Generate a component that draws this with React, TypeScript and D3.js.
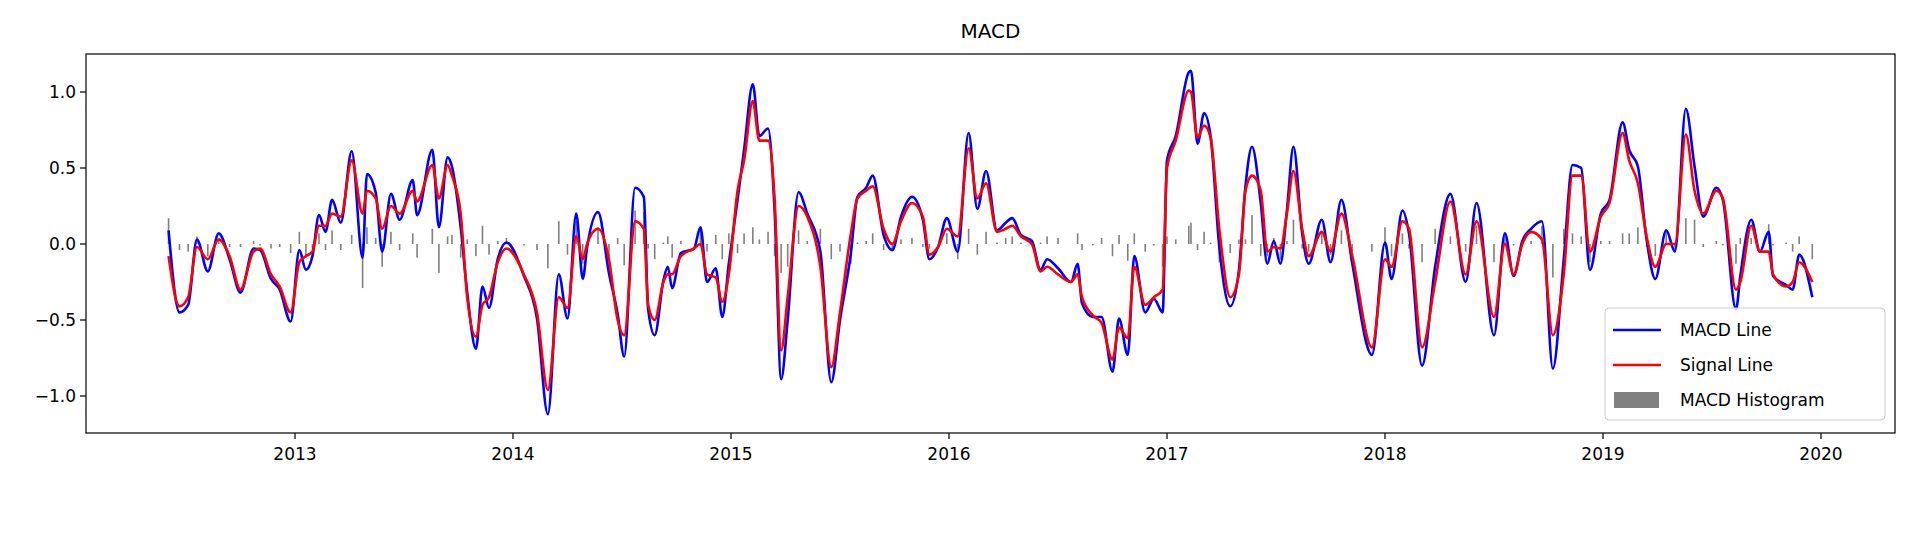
import * as d3 from "d3";

// decimal year of each sample
const dates = [
  2012.42, 2012.47, 2012.51, 2012.55, 2012.6, 2012.65, 2012.7, 2012.75, 2012.81, 2012.84,
  2012.89, 2012.93, 2012.98, 2013.02, 2013.05, 2013.08, 2013.11, 2013.14, 2013.17, 2013.21,
  2013.26, 2013.31, 2013.33, 2013.37, 2013.4, 2013.44, 2013.48, 2013.54, 2013.56, 2013.63,
  2013.66, 2013.7, 2013.72, 2013.76, 2013.79, 2013.83, 2013.86, 2013.89, 2013.93, 2013.97,
  2014.05, 2014.11, 2014.16, 2014.21, 2014.25, 2014.29, 2014.32, 2014.34, 2014.39, 2014.44,
  2014.48, 2014.51, 2014.56, 2014.6, 2014.62, 2014.65, 2014.69, 2014.71, 2014.73, 2014.77,
  2014.83, 2014.86, 2014.89, 2014.93, 2014.96, 2014.99, 2015.03, 2015.06, 2015.1, 2015.13,
  2015.17, 2015.2, 2015.23, 2015.26, 2015.31, 2015.35, 2015.41, 2015.46, 2015.5, 2015.55,
  2015.58, 2015.62, 2015.65, 2015.7, 2015.74, 2015.78, 2015.83, 2015.88, 2015.91, 2015.95,
  2015.99, 2016.04, 2016.09, 2016.13, 2016.17, 2016.22, 2016.26, 2016.29, 2016.33, 2016.38,
  2016.42, 2016.45, 2016.5, 2016.56, 2016.59, 2016.61, 2016.66, 2016.7, 2016.75, 2016.78,
  2016.82, 2016.85, 2016.9, 2016.94, 2016.98, 2017.0, 2017.04, 2017.1, 2017.11, 2017.14,
  2017.17, 2017.2, 2017.24, 2017.29, 2017.33, 2017.36, 2017.39, 2017.43, 2017.46, 2017.49,
  2017.52, 2017.55, 2017.58, 2017.62, 2017.65, 2017.71, 2017.75, 2017.8, 2017.85, 2017.94,
  2018.0, 2018.03, 2018.08, 2018.11, 2018.17, 2018.23, 2018.3, 2018.37, 2018.42, 2018.5,
  2018.55, 2018.59, 2018.63, 2018.67, 2018.72, 2018.77, 2018.82, 2018.86, 2018.9, 2018.94,
  2018.99, 2019.03, 2019.09, 2019.12, 2019.16, 2019.2, 2019.24, 2019.29, 2019.33, 2019.38,
  2019.42, 2019.46, 2019.52, 2019.55, 2019.61, 2019.63, 2019.68, 2019.72, 2019.76, 2019.78,
  2019.84, 2019.87, 2019.9, 2019.96,
];

const macdLine = [
  0.09, -0.45, -0.4, 0.03, -0.18, 0.07, -0.1, -0.32, -0.03, -0.04,
  -0.23, -0.3, -0.51, -0.04, -0.17, -0.08, 0.19, 0.08, 0.29, 0.14,
  0.61, -0.09, 0.46, 0.34, -0.05, 0.33, 0.16, 0.42, 0.19, 0.62,
  0.11, 0.57, 0.51, 0.11, -0.32, -0.69, -0.28, -0.42, -0.1, 0.01,
  -0.21, -0.49, -1.12, -0.2, -0.49, 0.2, -0.23, -0.02, 0.21, -0.19,
  -0.46, -0.74, 0.37, 0.31, -0.43, -0.6, -0.24, -0.15, -0.29, -0.06,
  -0.03, 0.11, -0.25, -0.16, -0.48, -0.13, 0.29, 0.62, 1.05, 0.71,
  0.76, 0.22, -0.89, -0.5, 0.34, 0.2, -0.05, -0.91, -0.5, -0.06,
  0.31, 0.37, 0.45, 0.06, -0.04, 0.18, 0.31, 0.16, -0.1, -0.02,
  0.17, -0.05, 0.73, 0.23, 0.48, 0.09, 0.14, 0.17, 0.06, 0.02,
  -0.17, -0.1, -0.16, -0.25, -0.13, -0.39, -0.48, -0.48, -0.84, -0.49,
  -0.73, -0.08, -0.45, -0.36, -0.45, 0.55, 0.71, 1.13, 1.14, 0.66,
  0.86, 0.71, -0.02, -0.41, -0.17, 0.38, 0.64, 0.27, -0.13, 0.02,
  -0.13, 0.22, 0.64, 0.07, -0.13, 0.16, -0.12, 0.29, -0.13, -0.73,
  0.01, -0.23, 0.22, 0.07, -0.8, -0.15, 0.33, -0.25, 0.27, -0.6,
  0.07, -0.21, 0.02, 0.1, 0.15, -0.82, -0.1, 0.52, 0.5, -0.17,
  0.2, 0.29, 0.8, 0.62, 0.51, 0.03, -0.23, 0.09, -0.05, 0.89,
  0.51, 0.18, 0.37, 0.29, -0.43, -0.21, 0.16, -0.05, 0.08, -0.21,
  -0.27, -0.3, -0.07, -0.35,
];

const signalLine = [
  -0.08, -0.41, -0.35, -0.02, -0.1, 0.03, -0.08, -0.3, -0.05, -0.03,
  -0.2, -0.28, -0.45, -0.12, -0.08, -0.05, 0.12, 0.12, 0.2, 0.18,
  0.55, 0.2, 0.35, 0.3, 0.1, 0.25, 0.2, 0.35, 0.28, 0.52,
  0.3, 0.52, 0.45, 0.2, -0.35, -0.61, -0.4, -0.35, -0.12, -0.03,
  -0.2, -0.45, -0.96, -0.35, -0.42, 0.05, -0.1, 0.0, 0.1, -0.1,
  -0.5, -0.6, 0.15, 0.1, -0.4, -0.5, -0.25, -0.2, -0.2, -0.08,
  -0.03, 0.0, -0.2, -0.22, -0.38, -0.2, 0.35, 0.55, 0.94, 0.68,
  0.68, 0.3, -0.7, -0.35, 0.25, 0.18, -0.15, -0.81, -0.45, 0.07,
  0.3, 0.35, 0.38, 0.1, 0.0, 0.15, 0.27, 0.18, -0.07, -0.02,
  0.1, 0.05, 0.63, 0.3, 0.4, 0.08, 0.1, 0.12, 0.05, 0.0,
  -0.18, -0.15, -0.2, -0.25, -0.2, -0.35, -0.47, -0.52, -0.76, -0.55,
  -0.62, -0.15, -0.4, -0.35, -0.3, 0.5, 0.68, 1.01, 1.0, 0.7,
  0.78, 0.7, 0.1, -0.35, -0.2, 0.35, 0.45, 0.35, -0.05, -0.02,
  -0.03, 0.2, 0.48, 0.1, -0.08, 0.08, -0.05, 0.2, -0.08, -0.68,
  -0.1, -0.15, 0.15, 0.1, -0.68, -0.25, 0.28, -0.2, 0.15, -0.48,
  0.0, -0.2, 0.0, 0.08, 0.03, -0.6, -0.2, 0.45, 0.45, -0.05,
  0.18, 0.27, 0.73, 0.55, 0.4, 0.05, -0.15, 0.0, 0.0, 0.72,
  0.35, 0.2, 0.35, 0.3, -0.3, -0.25, 0.12, -0.05, -0.05, -0.2,
  -0.28, -0.25, -0.12, -0.25,
];

const yTicks = [-1.0, -0.5, 0.0, 0.5, 1.0];
const xTicks = [2013, 2014, 2015, 2016, 2017, 2018, 2019, 2020];
const legendItems = [
  { label: "MACD Line", color: "blue", kind: "line" },
  { label: "Signal Line", color: "red", kind: "line" },
  { label: "MACD Histogram", color: "gray", kind: "bar" },
];

const width = 1916;
const height = 540;
const margin = { top: 54, right: 21, bottom: 107, left: 86 };
const font = "'DejaVu Sans', sans-serif";

type Pt = { t: number; v: number };

export default function App() {
  // anchored to the reference ticks: 2013 -> 295px, 218px per year
  const x = d3
    .scaleLinear()
    .domain([2013 - (295 - margin.left) / 218, 2013 + (width - margin.right - 295) / 218])
    .range([margin.left, width - margin.right]);

  const y = d3
    .scaleLinear()
    .domain([(244 - (height - margin.bottom)) / 152, (244 - margin.top) / 152])
    .range([height - margin.bottom, margin.top]);

  const macd: Pt[] = dates.map((t, i) => ({ t, v: macdLine[i] }));
  const signal: Pt[] = dates.map((t, i) => ({ t, v: signalLine[i] }));
  const hist: Pt[] = dates.map((t, i) => ({ t, v: macdLine[i] - signalLine[i] }));

  const line = d3
    .line<Pt>()
    .x((d) => x(d.t))
    .y((d) => y(d.v))
    .curve(d3.curveMonotoneX);

  const lx = 1605;
  const ly = 308;

  return (
    <svg width={width} height={height} style={{ display: "block", position: "absolute", left: 0, top: 0, background: "#fff" }}>
      <text x={(margin.left + width - margin.right) / 2} y={38} textAnchor="middle" fontFamily={font} fontSize={20}>
        MACD
      </text>
      {hist.map((d, i) => (
        <rect
          key={i}
          x={x(d.t) - 0.8}
          width={1.6}
          y={Math.min(y(d.v), y(0))}
          height={Math.abs(y(d.v) - y(0))}
          fill="gray"
        />
      ))}
      <path d={line(macd) ?? ""} fill="none" stroke="blue" strokeWidth={2.6} strokeLinejoin="round" />
      <path d={line(signal) ?? ""} fill="none" stroke="red" strokeWidth={2.6} strokeLinejoin="round" />
      <rect
        x={margin.left}
        y={margin.top}
        width={width - margin.left - margin.right}
        height={height - margin.top - margin.bottom}
        fill="none"
        stroke="#000"
        strokeWidth={1.2}
      />
      {yTicks.map((t) => (
        <g key={t}>
          <line x1={margin.left - 6} x2={margin.left} y1={y(t)} y2={y(t)} stroke="#000" strokeWidth={1.2} />
          <text x={margin.left - 10} y={y(t)} dy="0.35em" textAnchor="end" fontFamily={font} fontSize={17}>
            {t.toFixed(1).replace("-", "\u2212")}
          </text>
        </g>
      ))}
      {xTicks.map((t) => (
        <g key={t}>
          <line x1={x(t)} x2={x(t)} y1={height - margin.bottom} y2={height - margin.bottom + 6} stroke="#000" strokeWidth={1.2} />
          <text x={x(t)} y={height - margin.bottom + 27} textAnchor="middle" fontFamily={font} fontSize={17}>
            {t}
          </text>
        </g>
      ))}
      <rect x={lx} y={ly} width={280} height={112} rx={4} fill="#fff" fillOpacity={0.8} stroke="#ccc" />
      {legendItems.map((it, i) => {
        const cy = ly + 22 + i * 35;
        return (
          <g key={it.label}>
            {it.kind === "line" ? (
              <line x1={lx + 8} x2={lx + 56} y1={cy} y2={cy} stroke={it.color} strokeWidth={2.6} />
            ) : (
              <rect x={lx + 9} y={cy - 8} width={45} height={16} fill={it.color} />
            )}
            <text x={lx + 75} y={cy} dy="0.35em" fontFamily={font} fontSize={17}>
              {it.label}
            </text>
          </g>
        );
      })}
    </svg>
  );
}
